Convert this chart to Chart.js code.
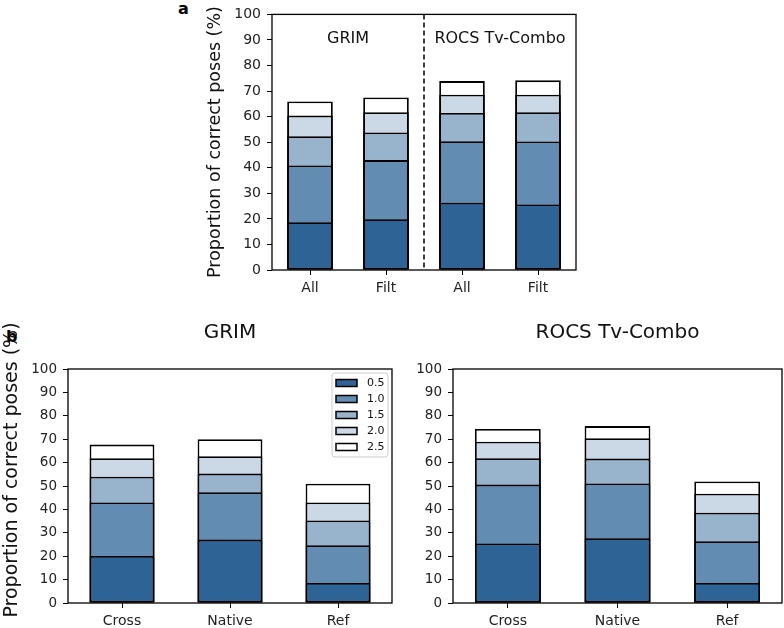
<!DOCTYPE html>
<html>
<head>
<meta charset="utf-8">
<script src="https://cdn.jsdelivr.net/npm/chart.js@4"></script>
<style>
  body { margin: 0; width: 784px; height: 628px; background: #fff; position: relative; overflow: hidden; font-family: 'DejaVu Sans', sans-serif; }
  canvas { position: absolute; }
  .tag { position: absolute; font-weight: bold; font-size: 16px; line-height: 16px; color: #000; }
</style>
</head>
<body>
<div class="tag" style="left:178px; top:1px">a</div>
<div class="tag" style="left:6px; top:329px">b</div>
<canvas id="chartA" width="390" height="300" style="left:200px; top:0px"></canvas>
<canvas id="chartB1" width="400" height="318" style="left:0px; top:310px"></canvas>
<canvas id="chartB2" width="384" height="318" style="left:400px; top:310px"></canvas>
<script>
// cumulative proportion of correct poses (%) at each RMSD threshold
const thresholds = ["0.5", "1.0", "1.5", "2.0", "2.5"];
const colors = ["#2e6396", "#638cb2", "#98b3cc", "#cbd8e6", "#ffffff"];

// panel a
const catsA = ["All", "Filt", "All", "Filt"];
const a05 = [18.7, 19.9, 26.3, 25.6];
const a10 = [40.9, 43.0, 50.4, 50.3];
const a15 = [52.3, 53.8, 61.4, 61.7];
const a20 = [60.4, 61.7, 68.6, 68.6];
const a25 = [65.9, 67.5, 73.9, 74.2];

// panel b, GRIM
const catsB = ["Cross", "Native", "Ref"];
const grim05 = [20.1, 27.1, 8.6];
const grim10 = [43.0, 47.3, 24.7];
const grim15 = [54.0, 55.3, 35.3];
const grim20 = [61.9, 62.7, 43.0];
const grim25 = [67.7, 70.0, 51.0];

// panel b, ROCS Tv-Combo
const rocs05 = [25.4, 27.7, 8.6];
const rocs10 = [50.6, 51.1, 26.4];
const rocs15 = [61.9, 61.7, 38.6];
const rocs20 = [68.9, 70.4, 46.7];
const rocs25 = [74.4, 75.6, 51.9];

const FONT = "'DejaVu Sans', sans-serif";

const decor = {
  id: "decor",
  afterDatasetsDraw(chart, args, opts) {
    const { ctx, chartArea: a, scales: { x, y } } = chart;
    ctx.save();
    ctx.fillStyle = "#111";
    ctx.textAlign = "center";
    ctx.textBaseline = "middle";

    if (opts.divider) {
      const xd = (x.getPixelForValue(1) + x.getPixelForValue(2)) / 2;
      ctx.strokeStyle = "#000";
      ctx.lineWidth = 1.5;
      ctx.setLineDash([5, 3]);
      ctx.beginPath();
      ctx.moveTo(xd, a.top);
      ctx.lineTo(xd, a.bottom);
      ctx.stroke();
      ctx.setLineDash([]);
    }

    // text inside plot
    (opts.notes || []).forEach(n => {
      ctx.font = n.size + "px " + FONT;
      const xc = (x.getPixelForValue(n.from) + x.getPixelForValue(n.to)) / 2;
      ctx.fillText(n.text, xc, y.getPixelForValue(n.y));
    });

    if (opts.title) {
      ctx.font = "20px " + FONT;
      ctx.fillText(opts.title, (a.left + a.right) / 2, a.top - 36);
    }

    if (opts.ytitle) {
      ctx.save();
      ctx.font = opts.ytitle.size + "px " + FONT;
      ctx.translate(opts.ytitle.x, opts.ytitle.y);
      ctx.rotate(-Math.PI / 2);
      ctx.fillText(opts.ytitle.text, 0, 0);
      ctx.restore();
    }

    if (opts.legend) {
      const bx = a.right - 60, by = a.top + 4, bw = 56, bh = 84;
      ctx.fillStyle = "rgba(255,255,255,0.85)";
      ctx.strokeStyle = "#cccccc";
      ctx.lineWidth = 1;
      ctx.beginPath();
      ctx.roundRect(bx, by, bw, bh, 3);
      ctx.fill();
      ctx.stroke();
      ctx.font = "11px " + FONT;
      ctx.textAlign = "left";
      chart.data.datasets.forEach((ds, i) => {
        const cy = by + 10 + i * 16;
        ctx.fillStyle = ds.backgroundColor;
        ctx.fillRect(bx + 4, cy - 3.5, 21, 7);
        ctx.strokeStyle = "#000";
        ctx.lineWidth = 1.5;
        ctx.strokeRect(bx + 4, cy - 3.5, 21, 7);
        ctx.fillStyle = "#111";
        ctx.fillText(ds.label, bx + 35, cy);
      });
    }

    // axes frame
    ctx.strokeStyle = "#000";
    ctx.lineWidth = 1.3;
    ctx.strokeRect(a.left, a.top, a.right - a.left, a.bottom - a.top);
    ctx.restore();
  }
};

function makeChart(id, labels, series, cfg) {
  const datasets = series.map((vals, i) => ({
    label: thresholds[i],
    data: vals,
    backgroundColor: colors[i],
    borderColor: "#000",
    borderWidth: 1.8,
    borderSkipped: false,
    barPercentage: 0.6,
    categoryPercentage: 1
  }));
  return new Chart(document.getElementById(id), {
    type: "bar",
    data: { labels: labels, datasets: datasets },
    plugins: [decor],
    options: {
      responsive: false,
      animation: false,
      layout: { padding: { top: cfg.padTop, right: cfg.padRight, left: 0, bottom: 0 } },
      plugins: {
        legend: { display: false },
        tooltip: { enabled: false },
        decor: cfg.decor
      },
      scales: {
        x: {
          stacked: true,
          border: { display: false },
          grid: { offset: false, drawOnChartArea: false, tickLength: 5, color: "#000" },
          ticks: { font: { family: FONT, size: 14 }, color: "#222", padding: 5 },
          afterFit(scale) { scale.height = cfg.xHeight; }
        },
        y: {
          stacked: false,
          min: 0,
          max: 100,
          border: { display: false },
          grid: { drawOnChartArea: false, tickLength: 5, color: "#000" },
          ticks: { stepSize: 10, font: { family: FONT, size: cfg.tick }, color: "#222", padding: 6 },
          afterFit(scale) { scale.width = cfg.yWidth; }
        }
      }
    }
  });
}

makeChart("chartA", catsA, [a05, a10, a15, a20, a25], {
  padTop: 14, padRight: 14, xHeight: 30, yWidth: 72, tick: 14,
  decor: {
    divider: true,
    notes: [
      { text: "GRIM", from: 0, to: 1, y: 90.5, size: 16 },
      { text: "ROCS Tv-Combo", from: 2, to: 3, y: 90.5, size: 16 }
    ],
    ytitle: { text: "Proportion of correct poses (%)", x: 15, y: 142, size: 17.5 }
  }
});

makeChart("chartB1", catsB, [grim05, grim10, grim15, grim20, grim25], {
  padTop: 59, padRight: 8, xHeight: 25, yWidth: 68, tick: 13.5,
  decor: {
    title: "GRIM",
    legend: true,
    ytitle: { text: "Proportion of correct poses (%)", x: 12, y: 160, size: 19 }
  }
});

makeChart("chartB2", catsB, [rocs05, rocs10, rocs15, rocs20, rocs25], {
  padTop: 59, padRight: 2, xHeight: 25, yWidth: 53, tick: 13.5,
  decor: { title: "ROCS Tv-Combo" }
});
</script>
</body>
</html>
